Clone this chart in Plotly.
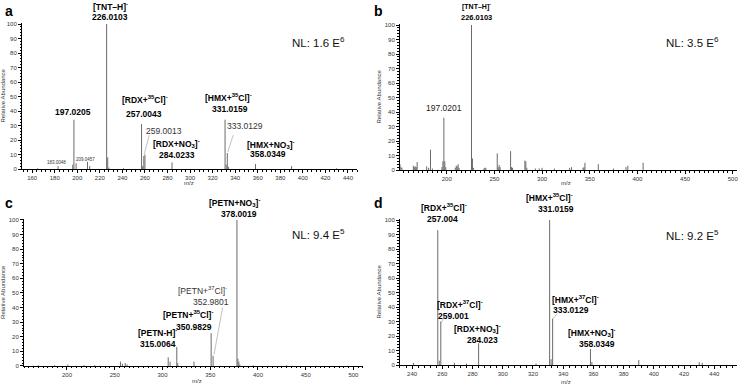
import plotly.graph_objects as go

# ---------------- data ----------------
a_mz = [165, 183.0048, 196, 197.0205, 199, 209.0457, 211, 226.0103, 227, 228, 241,
        257.0043, 258, 259.0013, 260, 284.0233, 331.0159, 332, 333.0129, 334,
        358.0349, 390, 430]
a_int = [0.5, 2, 3, 34, 4, 5, 2, 100, 8, 1, 0.5,
         31, 2, 9, 10, 4.5, 34, 3, 11, 1.5,
         3.5, 2, 0.5]

b_mz = [151, 152, 153, 165, 166, 167, 168, 169, 179, 181, 183, 185, 195, 196,
        197.0201, 198, 199, 209, 210, 211, 212, 213, 226.0103, 227, 228, 239,
        240, 241, 253, 254, 255, 256, 267, 268, 269, 282, 283, 284, 293, 297,
        300, 313, 329, 331, 343, 344, 345, 359, 375, 388, 390, 406]
b_int = [4, 2, 1.5, 3, 2, 2.5, 2, 5.5, 2.5, 1.5, 14, 1, 2, 6,
         36, 6, 2, 1.5, 3, 2.5, 4, 1.5, 100, 8, 1.5, 1,
         1.5, 1.5, 11.5, 2, 3.5, 2, 13, 2, 1.5, 6.5, 6, 1.5, 1, 1,
         1.5, 1, 1.5, 2, 1.5, 2, 5, 4, 1, 2, 3, 5]

c_mz = [170, 187, 201, 218, 229, 256, 258, 261, 263, 306, 308, 315.0064, 316,
        333, 350.9829, 352.9801, 378.0019, 379, 380, 381, 395, 430]
c_int = [0.5, 0.5, 1, 0.5, 0.5, 3, 1.5, 2, 1, 6, 3, 13, 2,
         3, 22.5, 7, 100, 5, 3, 1, 0.5, 0.5]

d_mz = [241, 257.004, 258, 259.001, 268, 276, 284.023, 322, 331.0159, 332,
        333.0129, 358.0349, 359, 390, 430, 432]
d_int = [1.5, 93, 3, 30, 1.5, 1, 15, 1, 100, 4,
         32, 11, 2, 3.5, 2, 1.5]

panel_letters = ["a", "b", "c", "d"]
nl_texts = ["NL: 1.6 E<sup>6</sup>", "NL: 3.5 E<sup>6</sup>",
            "NL: 9.4 E<sup>5</sup>", "NL: 9.2 E<sup>5</sup>"]

# ---------------- styling ----------------
FONT = "Arial, Liberation Sans, sans-serif"
LINE_COLOR = "#6a6a6a"
YMAX = 101

fig = go.Figure()

def sticks(mz, inten):
    xs, ys = [], []
    for m, v in zip(mz, inten):
        xs += [m, m, None]
        ys += [0, v, None]
    return xs, ys

series = [(a_mz, a_int), (b_mz, b_int), (c_mz, c_int), (d_mz, d_int)]
for i, (mz, inten) in enumerate(series):
    xs, ys = sticks(mz, inten)
    ax = "" if i == 0 else str(i + 1)
    fig.add_trace(go.Scatter(x=xs, y=ys, mode="lines",
                             line=dict(color=LINE_COLOR, width=1),
                             xaxis="x" + ax, yaxis="y" + ax,
                             hoverinfo="skip", showlegend=False))

xdomains = [[0.02977, 0.48309], [0.54127, 0.99729], [0.03248, 0.49120], [0.54127, 0.99729]]
ydomains = [[0.5610, 0.9414], [0.5584, 0.9388], [0.0494, 0.4324], [0.0519, 0.4323]]
xranges = [[151, 448], [151, 504.5], [155, 510], [232, 455]]
xdticks = [20, 50, 50, 20]
xminor = [4, 5, 5, 4]

tickfont = dict(family=FONT, size=6, color="#333")
for i in range(4):
    sfx = "" if i == 0 else str(i + 1)
    fig.update_layout(**{
        "xaxis" + sfx: dict(
            domain=xdomains[i], range=xranges[i], anchor="y" + sfx,
            automargin=False,
            dtick=xdticks[i], tick0=0, ticks="outside", ticklen=3,
            tickcolor="black", tickwidth=1,
            showline=True, linecolor="black", linewidth=1,
            showgrid=False, zeroline=False, tickfont=tickfont,
            minor=dict(ticks="outside", ticklen=1.5, dtick=xminor[i],
                       tickcolor="black", showgrid=False),
        ),
        "yaxis" + sfx: dict(
            domain=ydomains[i], range=[0, YMAX], anchor="x" + sfx,
            automargin=False,
            dtick=10, tick0=0, ticks="outside", ticklen=3,
            tickcolor="black", tickwidth=1,
            showline=True, linecolor="black", linewidth=1,
            showgrid=False, zeroline=False, tickfont=tickfont,
            minor=dict(ticks="outside", ticklen=1.5, dtick=2,
                       tickcolor="black", showgrid=False),
            title=dict(text="Relative Abundance",
                       font=dict(family=FONT, size=6, color="#333"),
                       standoff=2),
        ),
    })

ann = []

def lab(panel, x, y, text, bold=True, size=8.5, color="#000"):
    sfx = "" if panel == 0 else str(panel + 1)
    t = "<b>" + text + "</b>" if bold else text
    ann.append(dict(x=x, y=y / YMAX, xref="x" + sfx, yref="y" + sfx + " domain",
                    text=t, showarrow=False, xanchor="center", yanchor="middle",
                    font=dict(family=FONT, size=size, color=color)))

# panel a
lab(0, 229.3, 112.4, "[TNT–H]<sup>-</sup>")
lab(0, 229.3, 104.8, "226.0103")
lab(0, 196.2, 39.3, "197.0205")
lab(0, 260.0, 47.6, "[RDX+<sup>35</sup>Cl]<sup>-</sup>")
lab(0, 258.9, 37.9, "257.0043")
lab(0, 276.9, 26.2, "259.0013", bold=False, color="#333")
lab(0, 287.8, 17.7, "[RDX+NO<sub>3</sub>]<sup>-</sup>")
lab(0, 288.6, 9.7, "284.0233")
lab(0, 333.9, 49.2, "[HMX+<sup>35</sup>Cl]<sup>-</sup>")
lab(0, 335.0, 41.4, "331.0159")
lab(0, 348.4, 29.7, "333.0129", bold=False, color="#333")
lab(0, 371.6, 17.2, "[HMX+NO<sub>3</sub>]<sup>-</sup>")
lab(0, 369.1, 10.3, "358.0349")
lab(0, 181.8, 4.6, "183.0048", bold=False, size=4.5, color="#333")
lab(0, 207.1, 6.9, "209.0457", bold=False, size=4.5, color="#333")
lab(0, 413.7, 87.6, nl_texts[0], bold=False, size=11.5, color="#111")

# panel b
lab(1, 230.9, 113.1, "[TNT–H]<sup>-</sup>", size=7)
lab(1, 230.9, 105.5, "226.0103", size=7.5)
lab(1, 197.6, 42.6, "197.0201", bold=False, color="#222")
lab(1, 458.1, 88.3, nl_texts[1], bold=False, size=11.5, color="#111")

# panel c
lab(2, 375.4, 112.3, "[PETN+NO<sub>3</sub>]<sup>-</sup>")
lab(2, 380.3, 104.1, "378.0019")
lab(2, 463.2, 90.4, nl_texts[2], bold=False, size=11.5, color="#111")
lab(2, 342.4, 51.4, "[PETN+<sup>37</sup>Cl]<sup>-</sup>", bold=False, color="#333")
lab(2, 350.5, 43.8, "352.9801", bold=False, color="#333")
lab(2, 327.0, 35.6, "[PETN+<sup>35</sup>Cl]<sup>-</sup>")
lab(2, 333.5, 26.9, "350.9829")
lab(2, 294.5, 23.0, "[PETN-H]<sup>-</sup>")
lab(2, 295.5, 14.9, "315.0064")

# panel d
lab(3, 261.2, 108.3, "[RDX+<sup>35</sup>Cl]<sup>-</sup>")
lab(3, 260.1, 100.9, "257.004")
lab(3, 330.8, 115.2, "[HMX+<sup>35</sup>Cl]<sup>-</sup>")
lab(3, 335.2, 107.8, "331.0159")
lab(3, 425.8, 89.9, nl_texts[3], bold=False, size=11.5, color="#111")
lab(3, 271.6, 41.8, "[RDX+<sup>37</sup>Cl]<sup>-</sup>")
lab(3, 267.2, 33.8, "259.001")
lab(3, 283.5, 25.0, "[RDX+NO<sub>3</sub>]<sup>-</sup>")
lab(3, 286.5, 17.4, "284.023")
lab(3, 348.0, 45.3, "[HMX+<sup>37</sup>Cl]<sup>-</sup>")
lab(3, 345.2, 37.7, "333.0129")
lab(3, 358.9, 22.3, "[HMX+NO<sub>3</sub>]<sup>-</sup>")
lab(3, 362.4, 14.7, "358.0349")

# panel letters
letter_pos = [(0.004, 0.998), (0.503, 0.998), (0.004, 0.500), (0.503, 0.500)]
for L, (px, py) in zip(panel_letters, letter_pos):
    ann.append(dict(x=px, y=py, xref="paper", yref="paper", text="<b>" + L + "</b>",
                    showarrow=False, xanchor="left", yanchor="top",
                    font=dict(family=FONT, size=14, color="#000")))

# x-axis titles (m/z) placed below each panel
mz_pos = [(0.2558, 0.5247), (0.7659, 0.5247), (0.2666, 0.0104), (0.7659, 0.0080)]
for (px, py) in mz_pos:
    ann.append(dict(x=px, y=py, xref="paper", yref="paper", text="m/z",
                    showarrow=False, xanchor="center", yanchor="middle",
                    font=dict(family=FONT, size=6, color="#333")))

fig.update_layout(annotations=ann)

# leader lines
shapes = []
def leader(panel, x0, y0, x1, y1):
    sfx = "" if panel == 0 else str(panel + 1)
    shapes.append(dict(type="line", xref="x" + sfx, yref="y" + sfx,
                       x0=x0, y0=y0, x1=x1, y1=y1,
                       line=dict(color="#999", width=0.6)))
leader(0, 259.4, 10.3, 263.8, 23.4)
leader(0, 333.4, 11.9, 338.3, 23.4)
leader(2, 354.0, 8.0, 363.0, 40.0)
leader(3, 259.2, 29.0, 260.8, 31.9)
leader(3, 333.3, 32.0, 336.0, 35.4)
fig.update_layout(shapes=shapes)

fig.update_layout(width=739, height=385, margin=dict(l=0, r=0, t=0, b=0),
                  paper_bgcolor="white", plot_bgcolor="white",
                  font=dict(family=FONT))

# remove the browser's default 8px page margin so the figure fills the window
fig.write_html("out.html", config={"displayModeBar": False},
               post_script="document.body.style.margin='0';document.body.style.overflow='hidden';")
